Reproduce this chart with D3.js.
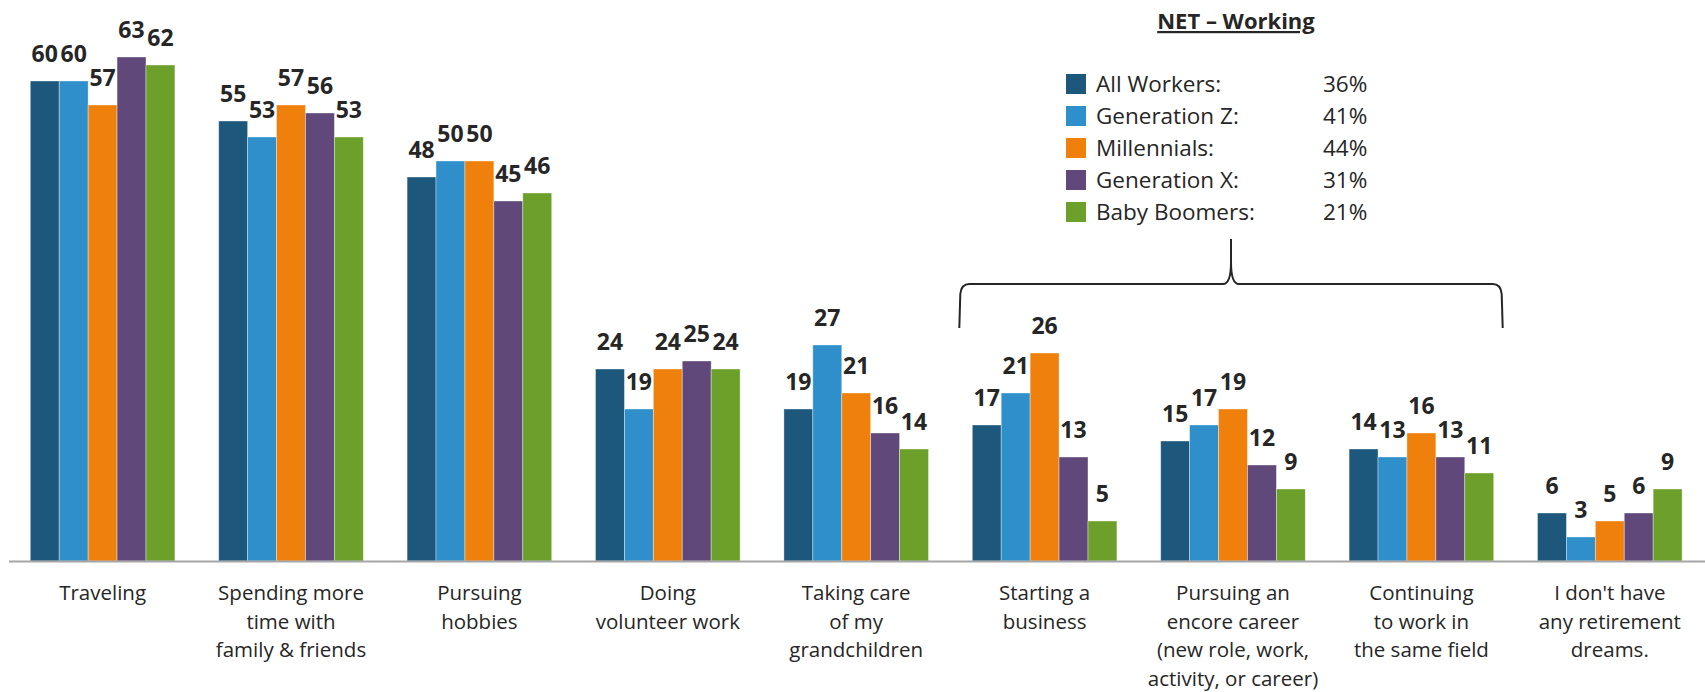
<!DOCTYPE html>
<html>
<head>
<meta charset="utf-8">
<script src="https://cdn.jsdelivr.net/npm/d3@7"></script>
<style>
  body { margin: 0; background: #fff; }
  text { font-family: "Open Sans", sans-serif; fill: #262626; }
</style>
</head>
<body>
<div id="chart"></div>
<script>
// categories and series
const categories = ["Traveling", "Spending more time with family & friends", "Pursuing hobbies",
  "Doing volunteer work", "Taking care of my grandchildren", "Starting a business",
  "Pursuing an encore career", "Continuing to work in the same field", "I don't have any retirement dreams."];

const categoryLines = [
  ["Traveling"],
  ["Spending more", "time with", "family & friends"],
  ["Pursuing", "hobbies"],
  ["Doing", "volunteer work"],
  ["Taking care", "of my", "grandchildren"],
  ["Starting a", "business"],
  ["Pursuing an", "encore career", "(new role, work,", "activity, or career)"],
  ["Continuing", "to work in", "the same field"],
  ["I don't have", "any retirement", "dreams."]
];

const series = ["All Workers:", "Generation Z:", "Millennials:", "Generation X:", "Baby Boomers:"];
const colors = ["#1d587c", "#2e8fcb", "#f0800c", "#60497a", "#6ca02a"];

const allWorkers  = [60, 55, 48, 24, 19, 17, 15, 14, 6];
const generationZ = [60, 53, 50, 19, 27, 21, 17, 13, 3];
const millennials = [57, 57, 50, 24, 21, 26, 19, 16, 5];
const generationX = [63, 56, 45, 25, 16, 13, 12, 13, 6];
const babyBoomers = [62, 53, 46, 24, 14, 5, 9, 11, 9];

const netWorking = [36, 41, 44, 31, 21];

const values = [allWorkers, generationZ, millennials, generationX, babyBoomers];

const width = 1705, height = 692;

const svg = d3.select("#chart")
  .append("svg")
  .attr("width", width)
  .attr("height", height);

// scales
const x = d3.scaleBand()
  .domain(categories)
  .range([8.4, 1704])
  .paddingInner(0.2325)
  .paddingOuter(0.11625);

const xs = d3.scaleBand()
  .domain(series)
  .range([0, x.bandwidth()]);

const y = d3.scaleLinear()
  .domain([0, 70])
  .range([561, 1]);

// bars
const groups = svg.selectAll("g.cat")
  .data(categories)
  .enter()
  .append("g")
  .attr("class", "cat")
  .attr("transform", d => `translate(${x(d)},0)`);

groups.selectAll("rect")
  .data((c, i) => series.map((s, j) => ({ s: s, v: values[j][i], c: colors[j] })))
  .enter()
  .append("rect")
  .attr("x", d => xs(d.s))
  .attr("y", d => y(d.v))
  .attr("width", xs.bandwidth())
  .attr("height", d => y(0) - y(d.v))
  .attr("fill", d => d.c)
  .attr("stroke", "#ffffff")
  .attr("stroke-opacity", 0.45)
  .attr("stroke-width", 0.8);

// value labels
groups.selectAll("text.val")
  .data((c, i) => series.map((s, j) => ({ s: s, v: values[j][i] })))
  .enter()
  .append("text")
  .attr("class", "val")
  .attr("x", d => xs(d.s) + xs.bandwidth() / 2)
  .attr("y", d => y(d.v) - 19)
  .attr("text-anchor", "middle")
  .style("font-weight", "bold")
  .style("font-size", "23px")
  .text(d => d.v);

// x axis line
svg.append("line")
  .attr("x1", 9)
  .attr("x2", width)
  .attr("y1", y(0) + 0.5)
  .attr("y2", y(0) + 0.5)
  .attr("stroke", "#a6a6a6")
  .attr("stroke-width", 2);

// category labels
categories.forEach((c, i) => {
  const t = svg.append("text")
    .attr("text-anchor", "middle")
    .style("font-size", "20.5px");
  categoryLines[i].forEach((line, k) => {
    t.append("tspan")
      .attr("x", x(c) + x.bandwidth() / 2)
      .attr("y", 600 + k * 28.5)
      .text(line);
  });
});

// NET - Working legend
svg.append("text")
  .attr("x", 1236)
  .attr("y", 29)
  .attr("text-anchor", "middle")
  .style("font-weight", "bold")
  .style("font-size", "22px")
  .style("text-decoration", "underline")
  .text("NET \u2013 Working");

const legend = svg.append("g");
series.forEach((s, i) => {
  const cy = 84 + i * 32;
  legend.append("rect")
    .attr("x", 1066)
    .attr("y", cy - 10)
    .attr("width", 20)
    .attr("height", 20)
    .attr("fill", colors[i]);
  legend.append("text")
    .attr("x", 1096)
    .attr("y", cy + 8)
    .style("font-size", "22.5px")
    .text(s);
  legend.append("text")
    .attr("x", 1323)
    .attr("y", cy + 8)
    .style("font-size", "22.5px")
    .text(netWorking[i] + "%");
});

// brace over the working categories
const bl = x(categories[5]) - 13;
const br = x(categories[7]) + x.bandwidth() + 9;
const bm = (bl + br) / 2;
const by = 284, bBottom = 328, bTop = 239;

svg.append("path")
  .attr("d", `M${bl},${bBottom} L${bl + 1},${by + 10} Q${bl + 2},${by} ${bl + 10},${by}
    L${bm - 8},${by} Q${bm},${by} ${bm},${by - 22} L${bm},${bTop}
    L${bm},${by - 22} Q${bm},${by} ${bm + 8},${by}
    L${br - 10},${by} Q${br - 2},${by} ${br - 1},${by + 10} L${br},${bBottom}`)
  .attr("fill", "none")
  .attr("stroke", "#262626")
  .attr("stroke-width", 2);
</script>
</body>
</html>
